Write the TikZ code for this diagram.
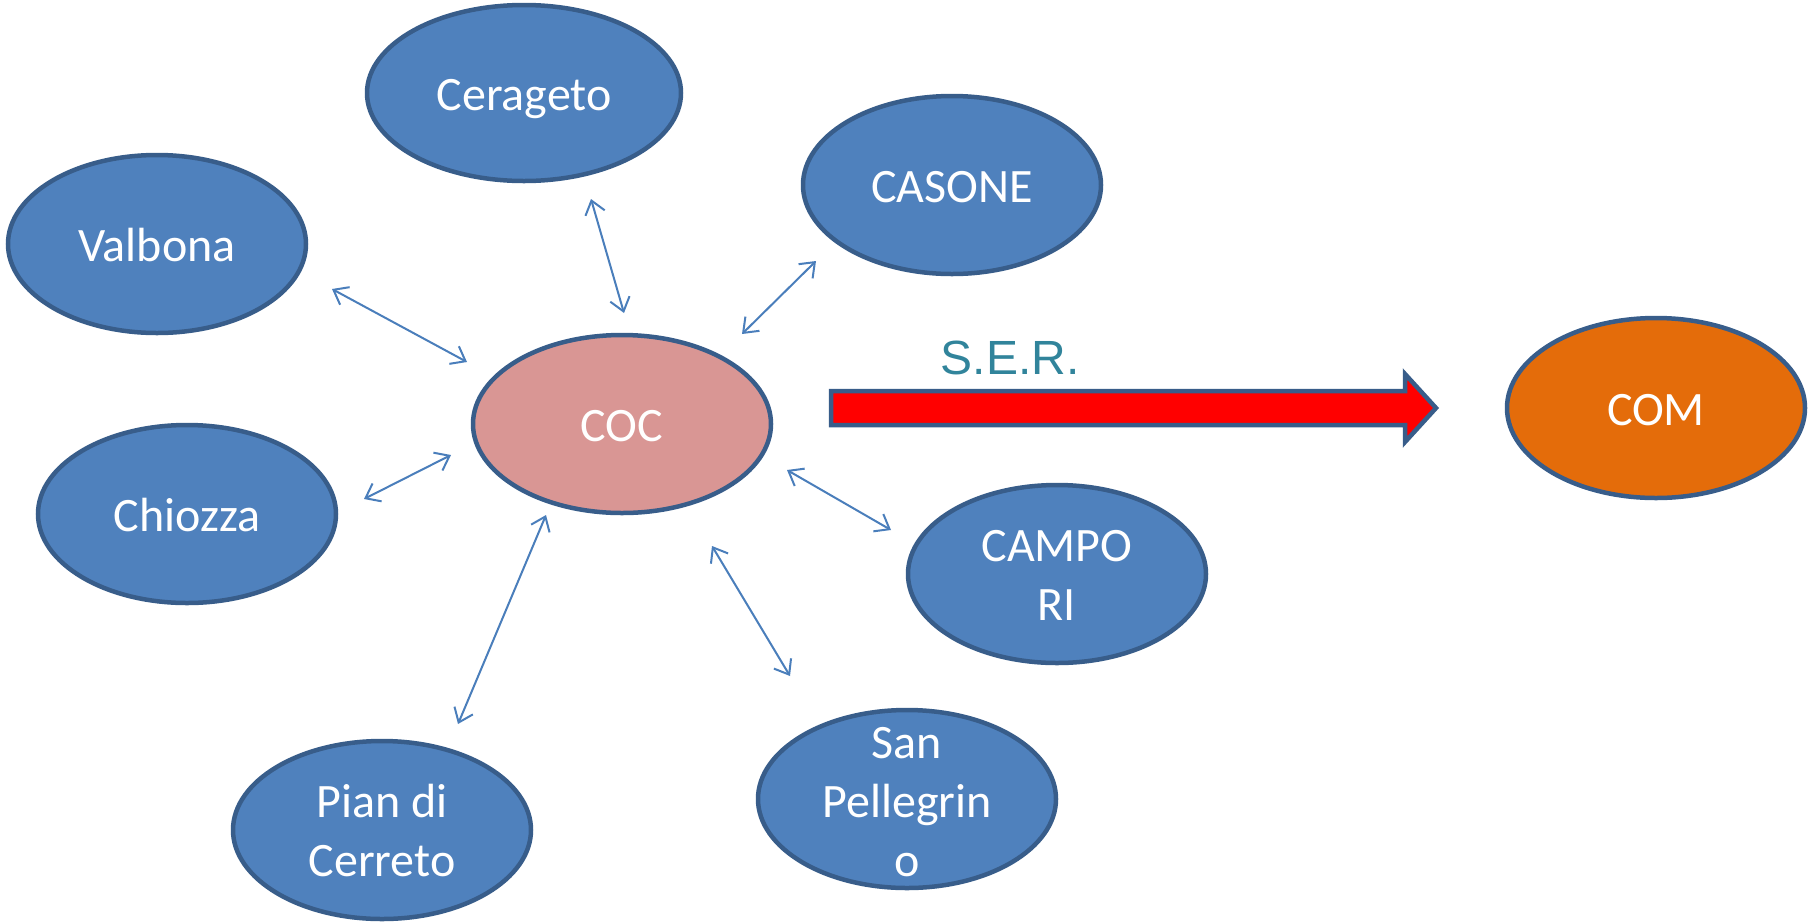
\documentclass[tikz,border=0pt]{standalone}
\usepackage{fontspec}
\setmainfont{Carlito}
\newfontfamily\arialf{Liberation Sans}
\usetikzlibrary{shapes.geometric,arrows.meta}
\definecolor{fillblue}{HTML}{4F81BD}
\definecolor{edgeblue}{HTML}{385D8A}
\definecolor{cocfill}{HTML}{D99694}
\definecolor{comfill}{HTML}{E46C0A}
\definecolor{sertext}{HTML}{31849B}
\definecolor{linkblue}{HTML}{4A7EBB}
\tikzset{
  place/.style={ellipse, draw=edgeblue, line width=4.5pt, fill=fillblue,
    minimum width=298pt, minimum height=178pt, inner sep=0pt},
  lbl/.style={text=white, font=\fontsize{48}{59}\selectfont, align=center, inner sep=0pt,
    anchor=base},
  link/.style={draw=linkblue, line width=2pt,
    {Straight Barb[length=13pt,width=20pt,line width=2pt]}-{Straight Barb[length=13pt,width=20pt,line width=2pt]}},
  bigarrow/.style={draw=edgeblue, line width=4.5pt, fill=red, line join=miter}
}
\begin{document}
\begin{tikzpicture}[x=1pt,y=-1pt]
\useasboundingbox (0,0) rectangle (1810,922);
\node[place, minimum width=314pt, minimum height=176pt] (cer) at (524,93) {};
\node[place] (val) at (157,244) {};
\node[place] (cas) at (952,185) {};
\node[place, fill=cocfill] (coc) at (622,424) {};
\node[place] (chi) at (187,514) {};
\node[place] (cam) at (1057,574) {};
\node[place] (pia) at (382,830) {};
\node[place] (san) at (907,799) {};
\node[place, fill=comfill, minimum height=180pt] (com) at (1656,408) {};
% labels (base = baseline of last line)
\node[lbl] (cert) at ([yshift=-17pt]cer.center) {Cerageto};
\node[lbl] (valt) at ([yshift=-17pt]val.center) {Valbona};
\node[lbl] (cast) at ([yshift=-17pt]cas.center) {CASONE};
\node[lbl] (coct) at ([yshift=-17pt]coc.center) {COC};
\node[lbl] (chit) at ([yshift=-17pt]chi.center) {Chiozza};
\node[lbl] (camt) at ([yshift=-46pt]cam.center) {CAMPO\\RI};
\node[lbl] (piat) at ([yshift=-46pt]pia.center) {Pian di\\Cerreto};
\node[lbl] (sant) at ([yshift=-77pt]san.center) {San\\Pellegrin\\o};
\node[lbl] (comt) at ([yshift=-17pt]com.center) {COM};
% link end points
\coordinate (a1) at (591,199); \coordinate (b1) at (624,313);
\coordinate (a2) at (816,261); \coordinate (b2) at (742,334);
\coordinate (a3) at (332,289); \coordinate (b3) at (467,362);
\coordinate (a4) at (364,499); \coordinate (b4) at (451,455);
\coordinate (a5) at (891,530); \coordinate (b5) at (787,470);
\coordinate (a6) at (790,676); \coordinate (b6) at (712,546);
\coordinate (a7) at (458,724); \coordinate (b7) at (546,515);
\draw[link] (a1) -- (b1);
\draw[link] (a2) -- (b2);
\draw[link] (a3) -- (b3);
\draw[link] (a4) -- (b4);
\draw[link] (a5) -- (b5);
\draw[link] (a6) -- (b6);
\draw[link] (a7) -- (b7);
% S.E.R. arrow
\draw[bigarrow] (831,391) -- (1405,391) -- (1405,374) -- (1436,408) -- (1405,442) -- (1405,425) -- (831,425) -- cycle;
\node[text=sertext, font=\arialf\fontsize{48}{54}\selectfont, inner sep=0pt] (ser) at (1010,358) {S.E.R.};
\end{tikzpicture}
\end{document}
